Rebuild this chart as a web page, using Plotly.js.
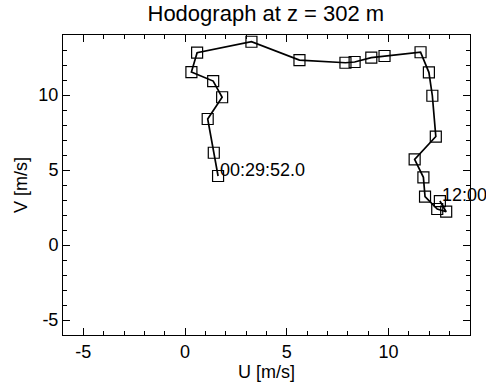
<!DOCTYPE html>
<html>
<head>
<meta charset="utf-8">
<script src="https://cdn.plot.ly/plotly-3.0.1.min.js"></script>
<style>html,body{margin:0;padding:0;background:#fff;}#plot{width:486px;height:385px;}</style>
</head>
<body>
<div id="plot"></div>
<script>
// Hodograph samples (U, V in m/s)
const uWind = [1.62, 1.41, 1.11, 1.82, 1.38, 0.31, 0.59, 3.26, 5.62, 7.88, 8.33, 9.15, 9.80, 11.57, 11.98, 12.15, 12.32, 11.28, 11.71, 11.79, 12.39, 12.83, 12.52];
const vWind = [4.60, 6.15, 8.40, 9.85, 10.93, 11.53, 12.82, 13.55, 12.33, 12.15, 12.20, 12.49, 12.60, 12.85, 11.51, 9.95, 7.23, 5.71, 4.51, 3.22, 2.40, 2.22, 2.93];
// time labels and the sample index they belong to
const timeLabels = ["00:29:52.0", "12:00"];
const timeLabelIndex = [0, 22];
// axis ticks
const tickVals = [-5, 0, 5, 10];
const tickText = ["-5", "0", "5", "10"];

const font = {family: "Liberation Sans, Arial, Helvetica, sans-serif", color: "#000"};

const trace = {
  x: uWind, y: vWind, type: "scatter", mode: "lines+markers",
  line: {color: "#000", width: 1.7},
  marker: {symbol: "square-open", size: 11, color: "#000", line: {width: 1.2, color: "#000"}},
  cliponaxis: false, hoverinfo: "skip"
};

const annotations = timeLabels.map((t, i) => ({
  x: uWind[timeLabelIndex[i]], y: vWind[timeLabelIndex[i]],
  xref: "x", yref: "y", text: t, showarrow: false,
  xanchor: "left", yanchor: "middle", xshift: 0, yshift: 6,
  font: Object.assign({size: 18}, font)
}));

const axisCommon = {
  range: [-6, 14], tickmode: "array", tickvals: tickVals, ticktext: tickText,
  ticks: "inside", ticklen: 7, tickwidth: 1, tickcolor: "#000",
  minor: {dtick: 1, ticks: "inside", ticklen: 4, tickwidth: 1, tickcolor: "#000", showgrid: false},
  showline: true, linecolor: "#000", linewidth: 1, mirror: "ticks",
  showgrid: false, zeroline: false,
  tickfont: Object.assign({size: 18}, font)
};

const layout = {
  width: 486, height: 385,
  margin: {l: 63, r: 16, t: 35, b: 50},
  paper_bgcolor: "#fff", plot_bgcolor: "#fff",
  showlegend: false,
  title: {text: "Hodograph at z = 302 m", font: Object.assign({size: 22}, font), x: 0.547, xanchor: "center", y: 0.965, yanchor: "middle"},
  xaxis: Object.assign({}, axisCommon, {title: {text: "U [m/s]", font: Object.assign({size: 18}, font), standoff: 2}}),
  yaxis: Object.assign({}, axisCommon, {title: {text: "V [m/s]", font: Object.assign({size: 18}, font), standoff: 6}}),
  annotations: annotations
};

Plotly.newPlot("plot", [trace], layout, {staticPlot: true, displayModeBar: false});
</script>
</body>
</html>
